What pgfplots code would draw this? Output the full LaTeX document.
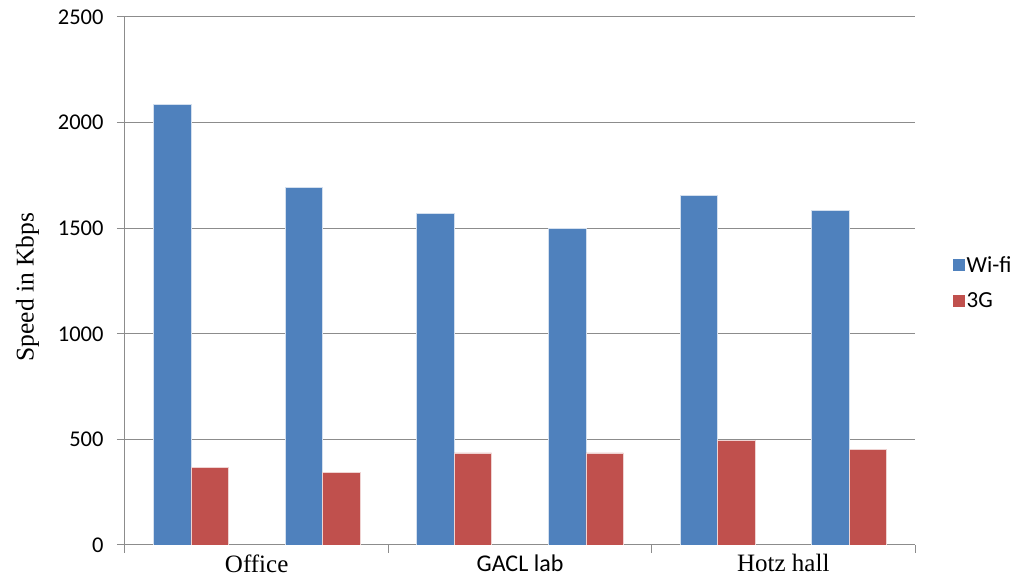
\documentclass[border=0pt]{standalone}
\usepackage{pgfplots}
\pgfplotsset{compat=1.18}
\usepackage{fontspec}
\setmainfont{Carlito}
\newfontfamily\tnr{Liberation Serif}
\definecolor{wifi}{HTML}{4F81BD}
\definecolor{threeg}{HTML}{C0504D}
\definecolor{gridgray}{HTML}{8C8C8C}

\begin{document}
\begin{tikzpicture}
\useasboundingbox (-125pt,-40pt) rectangle (895pt,545pt);
\begin{axis}[
scale only axis,
width=790pt, height=528pt,
xmin=-0.5, xmax=5.5,
ymin=0, ymax=2500,
ytick={0,500,...,2500},
xtick={-0.5,1.5,3.5,5.5},
xticklabels={},
extra x ticks={0.5,2.5,4.5},
extra x tick labels={{\tnr\fontsize{25}{28}\selectfont Office},{\fontsize{24}{28}\selectfont GACL lab},{\tnr\fontsize{25}{28}\selectfont Hotz hall}},
extra x tick style={major tick length=0pt, ymajorgrids=false, xmajorgrids=false,
  xticklabel style={yshift=-6pt}},
axis lines*=left,
axis line style={gridgray, line width=1pt},
tick style={gridgray, line width=1pt},
major tick length=8pt,
tick align=outside,
ymajorgrids,
grid style={gridgray, line width=1pt},
tick label style={font=\fontsize{22.5}{26}\selectfont},
/pgf/number format/assume math mode=true,
/pgf/number format/set thousands separator={},
yticklabel style={xshift=-10pt},
ylabel={\tnr\fontsize{25.5}{28}\selectfont Speed in Kbps},
ylabel style={at={(ticklabel cs:0.5)}, xshift=-6pt, yshift=12pt},
ybar=0pt, bar width=37.5pt,
legend style={draw=none, fill=none, at={(1.048,0.497)}, anchor=west,
  font=\fontsize{23}{26}\selectfont, row sep=15pt, inner sep=0pt,
  /tikz/every even column/.append style={column sep=6pt}},
legend cell align=left,
]
\addplot[fill=wifi, draw=white!75!wifi, line width=0.6pt,
  legend image code/.code={\fill[wifi] (0pt,-5.5pt) rectangle (11pt,5.5pt);}]
coordinates {(0,2088) (1,1694) (2,1570) (3,1499) (4,1654) (5,1586)};
\addplot[fill=threeg, draw=white!75!threeg, line width=0.6pt,
  legend image code/.code={\fill[threeg] (0pt,-5.5pt) rectangle (11pt,5.5pt);}]
coordinates {(0,369) (1,345) (2,436) (3,436) (4,496) (5,453)};
\legend{Wi-fi,3G}
\end{axis}
\end{tikzpicture}
\end{document}
